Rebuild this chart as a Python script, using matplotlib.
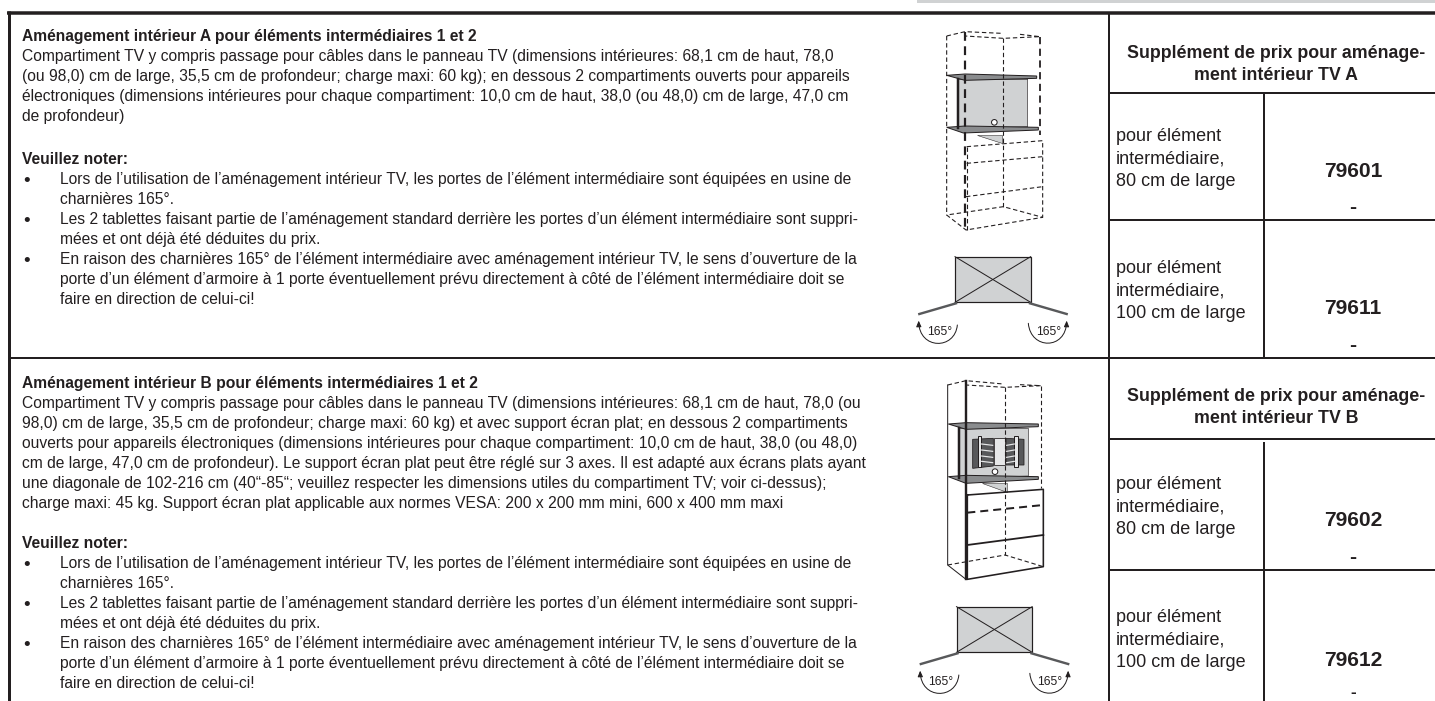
import matplotlib ; matplotlib.use('Agg')
from matplotlib import pyplot as plt
from matplotlib.patches import Polygon, Circle, FancyArrowPatch, Rectangle
from matplotlib.path import Path

plt.rcParams['font.family'] = ['Liberation Sans', 'DejaVu Sans']
INK = '#231f20'
GREY = '#d0d2d3'

title_a = "Aménagement intérieur A pour éléments intermédiaires 1 et 2"
body_a = ["Compartiment TV y compris passage pour câbles dans le panneau TV (dimensions intérieures: 68,1 cm de haut, 78,0",
          "(ou 98,0) cm de large, 35,5 cm de profondeur; charge maxi: 60 kg); en dessous 2 compartiments ouverts pour appareils",
          "électroniques (dimensions intérieures pour chaque compartiment: 10,0 cm de haut, 38,0 (ou 48,0) cm de large, 47,0 cm",
          "de profondeur)"]
title_b = "Aménagement intérieur B pour éléments intermédiaires 1 et 2"
body_b = ["Compartiment TV y compris passage pour câbles dans le panneau TV (dimensions intérieures: 68,1 cm de haut, 78,0 (ou",
          "98,0) cm de large, 35,5 cm de profondeur; charge maxi: 60 kg) et avec support écran plat; en dessous 2 compartiments",
          "ouverts pour appareils électroniques (dimensions intérieures pour chaque compartiment: 10,0 cm de haut, 38,0 (ou 48,0)",
          "cm de large, 47,0 cm de profondeur). Le support écran plat peut être réglé sur 3 axes. Il est adapté aux écrans plats ayant",
          "une diagonale de 102-216 cm (40“-85“; veuillez respecter les dimensions utiles du compartiment TV; voir ci-dessus);",
          "charge maxi: 45 kg. Support écran plat applicable aux normes VESA: 200 x 200 mm mini, 600 x 400 mm maxi"]
note_head = "Veuillez noter:"
notes = [("Lors de l’utilisation de l’aménagement intérieur TV, les portes de l’élément intermédiaire sont équipées en usine de",
          "charnières 165°."),
         ("Les 2 tablettes faisant partie de l’aménagement standard derrière les portes d’un élément intermédiaire sont suppri-",
          "mées et ont déjà été déduites du prix."),
         ("En raison des charnières 165° de l’élément intermédiaire avec aménagement intérieur TV, le sens d’ouverture de la",
          "porte d’un élément d’armoire à 1 porte éventuellement prévu directement à côté de l’élément intermédiaire doit se",
          "faire en direction de celui-ci!")]
header_a = ["Supplément de prix pour aménage-", "ment intérieur TV A"]
header_b = ["Supplément de prix pour aménage-", "ment intérieur TV B"]
label_80 = ["pour élément", "intermédiaire,", "80 cm de large"]
label_100 = ["pour élément", "intermédiaire,", "100 cm de large"]
codes = ["79601", "79611", "79602", "79612"]
code_y = [170, 307, 519, 659]
dash_y = [206, 344, 556, 691]
dash_size = [21, 21, 21, 17]
label_y = [135, 267, 483, 616]

fig = plt.figure(figsize=(14.35, 7.01), dpi=100)
ax = fig.add_axes([0, 0, 1, 1])
ax.set_xlim(0, 1435)
ax.set_ylim(701, 0)
ax.axis('off')

def px(w):
    return w * 0.72

def rule(x0, y0, x1, y1, w=2):
    ax.plot([x0, x1], [y0, y1], color=INK, lw=px(w), solid_capstyle='butt')

# table frame
ax.add_patch(Rectangle((917, 0), 518, 2.5, color=GREY, lw=0))
rule(7, 13, 1435, 13, 3.5)
rule(9, 11, 9, 701, 3)
rule(9, 358, 1435, 358, 2)
rule(1109, 13, 1109, 701, 2)
rule(1109, 93, 1435, 93, 2)
rule(1109, 220, 1435, 220, 2)
rule(1109, 439, 1435, 439, 2)
rule(1109, 570, 1435, 570, 2)
rule(1264, 93, 1264, 358, 2)
rule(1264, 442, 1264, 701, 2)

BODY = px(15.6)

def txt(x, y, s, size=BODY, weight='normal', ha='left'):
    ax.text(x, y + 1.5, s, fontsize=size, fontweight=weight, ha=ha, va='center', color=INK)

def left_block(y, title, body, note_y):
    txt(22, y, title, weight='bold')
    for i, line in enumerate(body):
        txt(22, y + 20 * (i + 1), line)
    y = note_y
    txt(22, y, note_head, weight='bold')
    for note in notes:
        for j, line in enumerate(note):
            y += 20
            if j == 0:
                txt(27, y + 1.5, "•", px(19), 'normal', 'center')
            txt(60, y, line)

left_block(35, title_a, body_a, 158)
left_block(382, title_b, body_b, 542)

for y0, hdr in zip([52, 395], [header_a, header_b]):
    txt(1276, y0, hdr[0], px(17.8), 'bold', 'center')
    txt(1276, y0 + 22, hdr[1], px(17.8), 'bold', 'center')
for y0, lab in zip(label_y, [label_80, label_100, label_80, label_100]):
    for i, line in enumerate(lab):
        txt(1116, y0 + 22.5 * i, line, px(18))
for c, yc, yd, ds in zip(codes, code_y, dash_y, dash_size):
    txt(1353, yc, c, px(21), 'bold', 'center')
    txt(1353, yd, "-", px(ds), 'bold', 'center')

def pa(pts):
    return [(880 + x / 3, y / 3) for x, y in pts]

def pb(pts):
    return [(880 + x / 3, 370 + y / 3) for x, y in pts]

def line(pts, w=1.0, dash=False, color=INK):
    xs, ys = zip(*pts)
    ax.plot(xs, ys, color=color, lw=px(w), ls=(0, (4, 2.5)) if dash else '-')

def fill(pts, fc=GREY, w=0.8, ec=INK):
    ax.add_patch(Polygon(pts, closed=True, fc=fc, ec=ec, lw=px(w)))

def cabinet_core(p, grey, shelf_top, shelf_low, wedge, hole):
    fill(p(grey), GREY, 0.6)
    line(p([grey[0], grey[3]]), 2.5)
    fill(p(wedge), GREY, 0.5)
    fill(p(shelf_top), '#8a8c8e', 1.0)
    fill(p(shelf_low), '#8a8c8e', 1.0)
    cx, cy = p([hole])[0]
    ax.add_patch(Circle((cx, cy), 2.8, fc='white', ec=INK, lw=px(1), zorder=4))

# cabinet A, all dashed
cabinet_core(pa, [(235, 238), (443, 238), (443, 380), (235, 385)],
             [(200, 226), (255, 222), (470, 228), (470, 235), (255, 241)],
             [(200, 382), (255, 378), (475, 382), (475, 390), (250, 399)],
             [(290, 405), (365, 405), (365, 428)], (343, 367))
for seg in [[(200, 108), (255, 95), (365, 100)], [(420, 103), (480, 110), (370, 115), (255, 108)],
            [(200, 108), (200, 645), (258, 690), (488, 652), (370, 620), (200, 645)],
            [(370, 115), (370, 620)], [(260, 440), (488, 422), (488, 652)],
            [(260, 490), (488, 470)], [(258, 590), (488, 560)], [(260, 440), (260, 690)]]:
    line(pa(seg), 1.1, True)
line(pa([(255, 95), (255, 690)]), 2.2, True)
line(pa([(480, 110), (480, 405)]), 1.8, True)

# cabinet B, front is solid
cabinet_core(pb, [(238, 175), (445, 175), (445, 318), (238, 325)],
             [(205, 162), (258, 158), (475, 162), (475, 170), (258, 178)],
             [(205, 320), (258, 316), (475, 320), (475, 328), (258, 340)],
             [(305, 340), (380, 340), (380, 365)], (345, 305))
for seg in [[(203, 45), (258, 32), (370, 42)], [(420, 44), (483, 47), (375, 52), (258, 45)],
            [(375, 52), (375, 555)], [(203, 585), (375, 555), (490, 590)], [(483, 47), (483, 355)]]:
    line(pb(seg), 1.1, True)
line(pb([(203, 45), (203, 585), (258, 628)]), 1.0)
line(pb([(258, 32), (258, 628)]), 2.4)
line(pb([(262, 375), (490, 358), (490, 590), (262, 628), (262, 375)]), 1.6)
line(pb([(262, 428), (490, 405)]), 2.0, True)
line(pb([(262, 525), (490, 495)]), 1.8)
# flat screen bracket
for bar in [[(278, 208), (340, 205), (340, 288), (278, 295)], [(378, 205), (432, 208), (432, 285), (378, 285)]]:
    fill(pb(bar), '#57585a', 0.8)
fill(pb([(342, 205), (375, 205), (375, 285), (342, 285)]), '#e6e7e8', 0.8)
for x0 in [298, 408]:
    fill(pb([(x0 - 5, 198), (x0 + 5, 198), (x0 + 5, 292), (x0 - 5, 292)]), '#e6e7e8', 1.0)
for y0 in [222, 240, 258, 274]:
    line(pb([(305, y0), (338, y0 + 4)]), 1.2, color='#e6e7e8')
    line(pb([(380, y0 + 4), (403, y0)]), 1.2, color='#e6e7e8')

# plan views, B is A moved down by 350
arc_codes = [Path.MOVETO, Path.CURVE4, Path.CURVE4, Path.CURVE4]
arcs = [[(232, 975), (225, 1050), (118, 1050), (116, 962)],
        [(445, 970), (452, 1050), (558, 1050), (560, 962)]]
for dx, dy in [(0, 0), (1.5, 350)]:
    def q(pts):
        return [(880 + x / 3 + dx, y / 3 + dy) for x, y in pts]
    fill(q([(225, 770), (452, 770), (452, 907), (225, 907)]), GREY, 1.2)
    line(q([(225, 770), (452, 907)]), 1.0)
    line(q([(225, 907), (452, 770)]), 1.0)
    line(q([(118, 942), (228, 910)]), 2.4, color='#58595b')
    line(q([(450, 910), (560, 942)]), 2.4, color='#58595b')
    for arc in arcs:
        ax.add_patch(FancyArrowPatch(path=Path(q(arc), arc_codes),
                                     arrowstyle='-|>,head_length=3.5,head_width=1.5',
                                     lw=px(1), color=INK))
    for x0 in [178, 505]:
        xt, yt = q([(x0, 995)])[0]
        txt(xt, yt - 1.5, "165°", px(12), 'normal', 'center')

fig.savefig('out.png', dpi=100)
